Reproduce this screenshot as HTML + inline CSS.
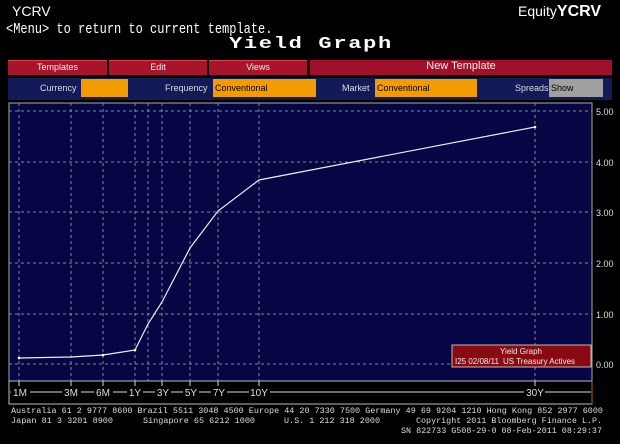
<!DOCTYPE html>
<html><head><style>
body{margin:0;background:#000;width:620px;height:444px;overflow:hidden;position:relative;font-family:"Liberation Sans",sans-serif;color:#fff}
.a{position:absolute;white-space:nowrap}
.btn{position:absolute;top:60px;height:14px;background:#a8142a;border-top:1px solid #e04050;font-size:9px;text-align:center;line-height:13px;color:#eee}
.lbl{position:absolute;top:83px;font-size:9px;color:#ddd}
.box{position:absolute;top:79px;height:18px;background:#f39c00;font-size:9px;color:#000;line-height:18px;padding-left:2px;box-sizing:border-box}
.mono{font-family:"Liberation Mono",monospace}
</style></head><body>
<div class="a" style="left:12px;top:3px;font-size:14px">YCRV</div>
<div class="a" style="left:518px;top:3px;font-size:14px">Equity<b style="font-size:16px">YCRV</b></div>
<div class="a mono" style="left:6px;top:21px;font-size:12px;transform:scaleY(1.2);transform-origin:0 0">&lt;Menu&gt; to return to current template.</div>
<div class="a mono" style="left:229px;top:36px;font-size:22px;line-height:22px;font-weight:bold;letter-spacing:1.7px;transform:scaleY(0.75);transform-origin:0 0">Yield Graph</div>
<div class="btn" style="left:8px;width:99px">Templates</div>
<div class="btn" style="left:109px;width:98px">Edit</div>
<div class="btn" style="left:209px;width:98px">Views</div>
<div class="btn" style="left:310px;width:302px;background:#a0102a;font-size:11px;border:none;height:15px">New Template</div>
<div class="a" style="left:8px;top:78px;width:604px;height:22px;background:#141a58"></div>
<div class="lbl" style="left:40px">Currency</div>
<div class="box" style="left:81px;width:47px"></div>
<div class="lbl" style="left:165px">Frequency</div>
<div class="box" style="left:213px;width:103px">Conventional</div>
<div class="lbl" style="left:342px">Market</div>
<div class="box" style="left:375px;width:102px">Conventional</div>
<div class="lbl" style="left:515px">Spreads</div>
<div class="box" style="left:549px;width:54px;background:#a0a0a0">Show</div>
<svg class="a" style="left:0;top:0" width="620" height="444">
<rect x="9" y="103" width="583" height="278" fill="#060645" stroke="#aaa" stroke-width="1"/>
<rect x="9" y="381" width="583" height="23" fill="#000" stroke="#bbb" stroke-width="1"/>
<line x1="592" y1="381" x2="592" y2="404" stroke="#c86000"/>
<g stroke="#888" stroke-dasharray="3,3" stroke-width="1">
<line x1="9" x2="592" y1="111" y2="111"/><line x1="9" x2="592" y1="162" y2="162"/><line x1="9" x2="592" y1="212" y2="212"/><line x1="9" x2="592" y1="263" y2="263"/><line x1="9" x2="592" y1="314" y2="314"/><line x1="9" x2="592" y1="364" y2="364"/>
<line x1="19" x2="19" y1="103" y2="381"/><line x1="71" x2="71" y1="103" y2="381"/><line x1="103" x2="103" y1="103" y2="381"/><line x1="135" x2="135" y1="103" y2="381"/><line x1="148" x2="148" y1="103" y2="381"/><line x1="162" x2="162" y1="103" y2="381"/><line x1="190" x2="190" y1="103" y2="381"/><line x1="218" x2="218" y1="103" y2="381"/><line x1="259" x2="259" y1="103" y2="381"/><line x1="535" x2="535" y1="103" y2="381"/>
</g>
<polyline fill="none" stroke="#eee" stroke-width="1.2" points="19,358 71,357 103,355 135,350 148,324 162,302 190,248 218,211 259,180 535,127"/>
<g fill="#fff"><circle cx="19" cy="358" r="1.3"/><circle cx="103" cy="355" r="1.3"/><circle cx="135" cy="350" r="1.3"/><circle cx="535" cy="127" r="1.3"/></g>
<g fill="#ddd" font-size="9" font-family="Liberation Sans">
<text x="596" y="115">5.00</text><text x="596" y="166">4.00</text><text x="596" y="216">3.00</text><text x="596" y="267">2.00</text><text x="596" y="318">1.00</text><text x="596" y="368">0.00</text>
</g>
<line x1="10" x2="591" y1="392" y2="392" stroke="#ddd"/>
<g font-size="10" fill="#ddd" font-family="Liberation Sans" text-anchor="middle">
<g fill="#000"><rect x="11" y="386" width="19" height="12"/><rect x="62" y="386" width="19" height="12"/><rect x="94" y="386" width="19" height="12"/><rect x="127" y="386" width="16" height="12"/><rect x="155" y="386" width="16" height="12"/><rect x="183" y="386" width="16" height="12"/><rect x="211" y="386" width="16" height="12"/><rect x="249" y="386" width="21" height="12"/><rect x="524" y="386" width="21" height="12"/></g>
<text x="20" y="396">1M</text><text x="71" y="396">3M</text><text x="103" y="396">6M</text><text x="135" y="396">1Y</text><text x="163" y="396">3Y</text><text x="191" y="396">5Y</text><text x="219" y="396">7Y</text><text x="259" y="396">10Y</text><text x="535" y="396">30Y</text>
</g>
<g stroke="#ddd"><line x1="19" x2="19" y1="381" y2="386"/><line x1="71" x2="71" y1="381" y2="386"/><line x1="103" x2="103" y1="381" y2="386"/><line x1="135" x2="135" y1="381" y2="386"/><line x1="162" x2="162" y1="381" y2="386"/><line x1="190" x2="190" y1="381" y2="386"/><line x1="218" x2="218" y1="381" y2="386"/><line x1="259" x2="259" y1="381" y2="386"/><line x1="535" x2="535" y1="381" y2="386"/></g>
<rect x="452" y="345" width="139" height="22" fill="#8a0a12" stroke="#bbb"/>
<g font-size="8" fill="#eee" font-family="Liberation Sans"><text x="521" y="354" text-anchor="middle">Yield Graph</text><text x="455" y="364">I25 02/08/11</text><text x="503" y="364">US Treasury Actives</text></g>
<g font-size="8.5" fill="#ddd" font-family="Liberation Mono">
<text x="11" y="413" textLength="592" lengthAdjust="spacingAndGlyphs">Australia 61 2 9777 8600 Brazil 5511 3048 4500 Europe 44 20 7330 7500 Germany 49 69 9204 1210 Hong Kong 852 2977 6000</text>
<text x="11" y="423" textLength="102" lengthAdjust="spacingAndGlyphs">Japan 81 3 3201 8900</text>
<text x="143" y="423" textLength="112" lengthAdjust="spacingAndGlyphs">Singapore 65 6212 1000</text>
<text x="284" y="423" textLength="96" lengthAdjust="spacingAndGlyphs">U.S. 1 212 318 2000</text>
<text x="416" y="423" textLength="186" lengthAdjust="spacingAndGlyphs">Copyright 2011 Bloomberg Finance L.P.</text>
<text x="401" y="433" textLength="201" lengthAdjust="spacingAndGlyphs">SN 822733 G508-29-0 08-Feb-2011 08:29:37</text>
</g>
</svg>
</body></html>
